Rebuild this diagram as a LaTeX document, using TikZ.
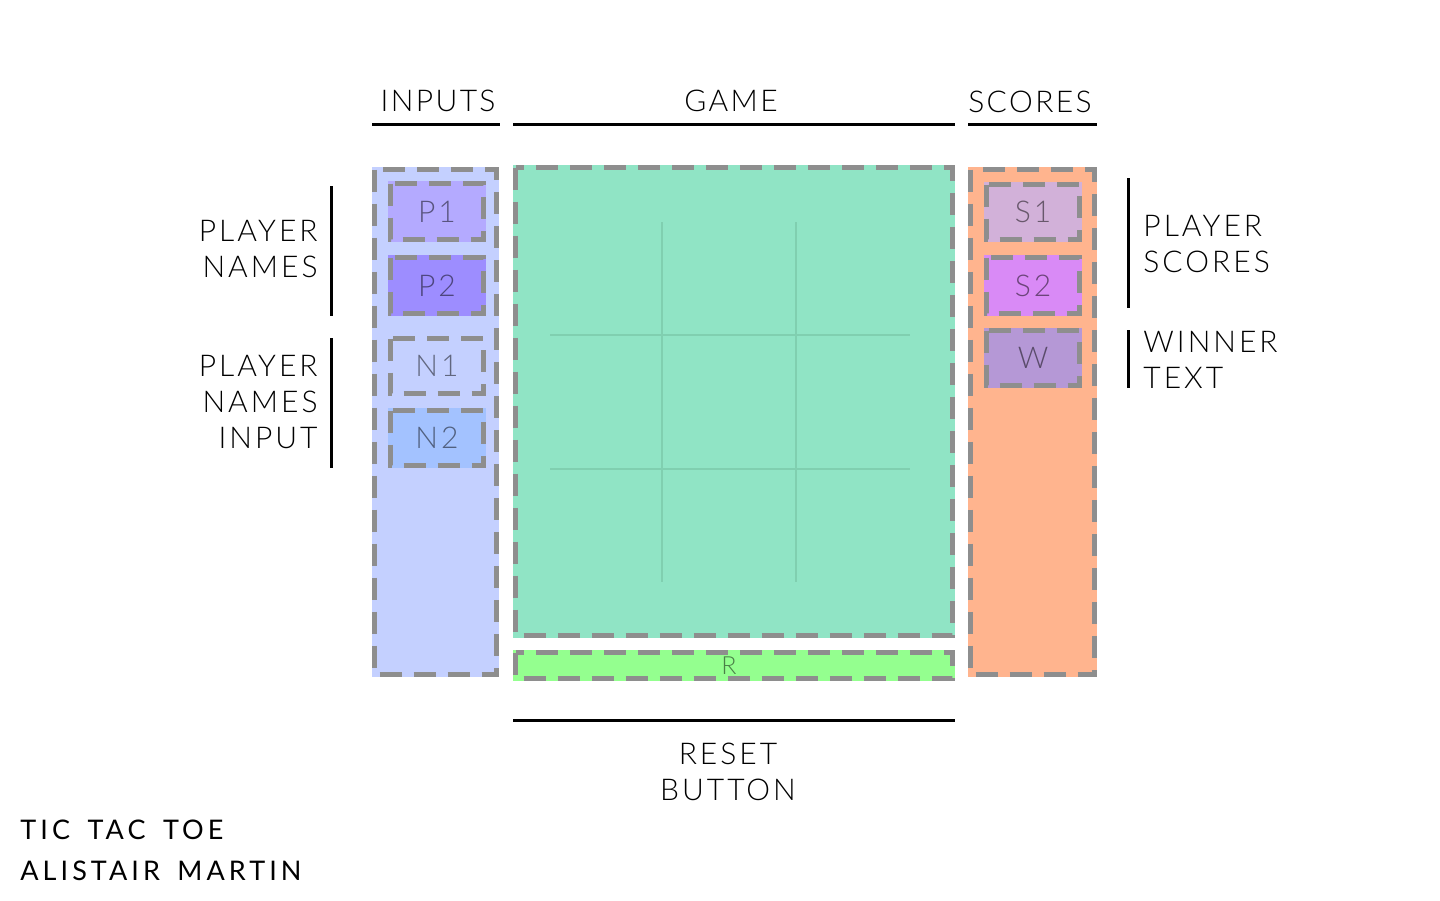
\documentclass[tikz,border=0pt]{standalone}
\usepackage{fontspec}
\setmainfont{Lato}[LetterSpace=15, WordSpace=1.6]
\newfontfamily\thinfont{Lato}[UprightFont={* Light}, LetterSpace=10]
\newfontfamily\headfont{Lato}[UprightFont={* Light}, LetterSpace=8]
\usetikzlibrary{positioning}

\definecolor{inputsfill}{HTML}{C4D0FF}
\definecolor{gamefill}{HTML}{90E4C5}
\definecolor{resetfill}{HTML}{94FF8F}
\definecolor{scoresfill}{HTML}{FFB48E}
\definecolor{pone}{HTML}{B4AAFF}
\definecolor{ptwo}{HTML}{9D8DFF}
\definecolor{none}{HTML}{DCE6FF}
\definecolor{ntwo}{HTML}{A3C2FF}
\definecolor{sone}{HTML}{D2B1D9}
\definecolor{stwo}{HTML}{D98AF6}
\definecolor{wfill}{HTML}{B598D6}
\definecolor{dashgrey}{HTML}{8E8E8E}
\definecolor{gridgreen}{HTML}{80CFB0}

\tikzset{
  area/.style={rectangle, inner sep=0pt, outer sep=0pt, fill=#1},
  dashframe/.style={draw=dashgrey, line width=2.5pt, dash pattern=on 11pt off 6pt},
  boxtext/.style={font=\thinfont\fontsize{15}{16}\selectfont, text=black, text opacity=0.5},
  sidelabel/.style={font=\thinfont\fontsize{15}{18}\selectfont, inner sep=0pt},
  headlabel/.style={font=\headfont\fontsize{15}{18}\selectfont, inner sep=0pt},
  bar/.style={line width=1.5pt},
  gridline/.style={draw=gridgreen, line width=1.2pt}
}

\begin{document}
\begin{tikzpicture}[x=0.5pt, y=-0.5pt]
        \useasboundingbox (0, 0) rectangle (1440, 900);

        % Columns
        \node[area=inputsfill, minimum width=63.5pt, minimum height=255pt] (inputs) at (435.5, 422) {};
        \node[area=gamefill, minimum width=221pt, minimum height=236.5pt] (game) at (734, 401.5) {};
        \node[area=resetfill, minimum width=221pt, minimum height=15.5pt] (reset) at (734, 665.5) {};
        \node[boxtext, font=\thinfont\fontsize{12.5}{12}\selectfont, inner sep=0pt] (rlabel) at (729, 665.5) {R};
        \node[area=scoresfill, minimum width=64.5pt, minimum height=255pt] (scores) at (1032.5, 422) {};

        % Boxes
        \node[area=pone, minimum width=49pt, minimum height=30.5pt, boxtext] (p1) at (437, 211.5) {P1};
        \node[area=ptwo, minimum width=49pt, minimum height=30.5pt, boxtext] (p2) at (437, 285.5) {P2};
        \node[area=none, minimum width=49pt, minimum height=30pt, boxtext] (n1) at (437, 366) {N1};
        \node[area=ntwo, minimum width=49pt, minimum height=30pt, boxtext] (n2) at (437, 438) {N2};
        \node[area=sone, minimum width=49pt, minimum height=30pt, boxtext] (s1) at (1033, 212) {S1};
        \node[area=stwo, minimum width=49pt, minimum height=30.5pt, boxtext] (s2) at (1033, 285.5) {S2};
        \node[area=wfill, minimum width=49pt, minimum height=30pt, boxtext] (w) at (1033, 358) {W};

        % Board
        \foreach \x in {662, 796}
          \draw[gridline] (\x, 222) -- (\x, 582);
        \foreach \y in {335, 469}
          \draw[gridline] (550, \y) -- (910, \y);

        % Dashed frames
        \foreach \b in {inputs, game, reset, scores, p1, p2, n1, n2, s1, s2, w}
          \draw[dashframe] ([xshift=1.25pt, yshift=-1.25pt]\b.north west) rectangle ([xshift=-1.25pt, yshift=1.25pt]\b.south east);

        % Headings
        \node[headlabel] (inputslabel) at (438, 101) {INPUTS};
        \node[headlabel] (gamelabel) at (731, 101) {GAME};
        \node[headlabel] (scoreslabel) at (1030, 102) {SCORES};
        \draw[bar] (372, 124) -- (500, 124);
        \draw[bar] (513, 124) -- (955, 124);
        \draw[bar] (968, 124) -- (1097, 124);

        % Side labels
        \coordinate (nt) at (331, 186);
        \coordinate (nb) at (331, 316);
        \coordinate (it) at (331, 338);
        \coordinate (ib) at (331, 468);
        \coordinate (st) at (1128, 178);
        \coordinate (sb) at (1128, 308);
        \coordinate (wt) at (1128, 330);
        \coordinate (wb) at (1128, 388);
        \draw[bar] (nt) -- (nb);
        \draw[bar] (it) -- (ib);
        \draw[bar] (st) -- (sb);
        \draw[bar] (wt) -- (wb);
        \node[sidelabel, align=right, anchor=east] (nameslabel) at (318, 249) {PLAYER\\NAMES};
        \node[sidelabel, align=right, anchor=east] (inputlabel) at (318, 402) {PLAYER\\NAMES\\INPUT};
        \node[sidelabel, align=left, anchor=west] (scorelabel) at (1143, 244) {PLAYER\\SCORES};
        \node[sidelabel, align=left, anchor=west] (winnerlabel) at (1143, 360) {WINNER\\TEXT};

        % Reset button
        \coordinate (rl) at (513, 720);
        \coordinate (rr) at (955, 720);
        \draw[bar] (rl) -- (rr);
        \node[sidelabel, align=center] (resetlabel) at (728, 772) {RESET\\BUTTON};

        % Title
        \node[anchor=west, inner sep=0pt, font=\fontsize{13.5}{20.5}\selectfont, align=left] (title) at (20, 850) {TIC TAC TOE\\ALISTAIR MARTIN};
\end{tikzpicture}
\end{document}
